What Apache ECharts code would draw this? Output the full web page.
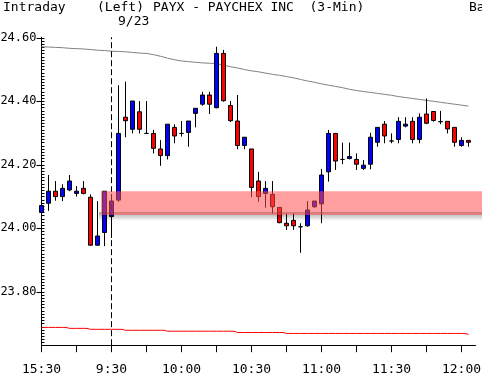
<!DOCTYPE html>
<html>
<head>
<meta charset="utf-8">
<script src="https://cdn.jsdelivr.net/npm/echarts@6/dist/echarts.min.js"></script>
<style>
html,body{margin:0;padding:0;background:#fff;}
#chart{width:482px;height:382px;}
</style>
</head>
<body>
<div id="chart"></div>
<script>
// ---- data ----
const times = ['15:30','15:33','15:36','15:39','15:42','15:45','15:48','15:51','15:54','15:57',
  '9:30','9:33','9:36','9:39','9:42','9:45','9:48','9:51','9:54','9:57',
  '10:00','10:03','10:06','10:09','10:12','10:15','10:18','10:21','10:24','10:27',
  '10:30','10:33','10:36','10:39','10:42','10:45','10:48','10:51','10:54','10:57',
  '11:00','11:03','11:06','11:09','11:12','11:15','11:18','11:21','11:24','11:27',
  '11:30','11:33','11:36','11:39','11:42','11:45','11:48','11:51','11:54','11:57',
  '12:00','12:03','12:06'];
const opens  = [24.050,24.079,24.117,24.100,24.121,24.110,24.126,24.098,23.947,23.987,
  24.037,24.089,24.350,24.312,24.367,24.299,24.299,24.250,24.229,24.318,
  24.299,24.302,24.362,24.391,24.420,24.380,24.551,24.387,24.338,24.261,
  24.250,24.149,24.110,24.107,24.066,24.016,24.025,24.005,24.008,24.068,
  24.077,24.178,24.299,24.217,24.220,24.217,24.189,24.202,24.271,24.328,
  24.275,24.280,24.322,24.337,24.280,24.360,24.368,24.336,24.337,24.318,
  24.261,24.277];
const closes = [24.072,24.117,24.100,24.126,24.149,24.117,24.110,23.947,23.976,24.117,
  24.086,24.299,24.339,24.401,24.312,24.299,24.252,24.229,24.328,24.291,
  24.299,24.338,24.378,24.420,24.391,24.551,24.402,24.339,24.261,24.287,
  24.129,24.100,24.126,24.068,24.018,24.008,24.008,24.005,24.058,24.086,
  24.168,24.299,24.212,24.217,24.226,24.202,24.199,24.287,24.318,24.291,
  24.275,24.337,24.328,24.280,24.350,24.331,24.340,24.336,24.313,24.271,
  24.277,24.271];
const lows   = [24.045,24.055,24.087,24.086,24.117,24.100,24.107,23.945,23.945,23.944,
  23.970,24.084,24.287,24.299,24.299,24.299,24.236,24.197,24.217,24.268,
  24.289,24.257,24.318,24.386,24.360,24.378,24.399,24.335,24.249,24.249,
  24.098,24.084,24.065,24.047,24.016,23.995,23.995,23.923,24.005,24.065,
  24.016,24.147,24.184,24.202,24.217,24.184,24.184,24.186,24.257,24.268,
  24.268,24.268,24.318,24.268,24.268,24.328,24.336,24.328,24.299,24.257,
  24.257,24.257];
const highs  = [24.078,24.168,24.149,24.139,24.168,24.133,24.149,24.107,24.086,24.117,
  24.108,24.451,24.462,24.401,24.401,24.401,24.310,24.278,24.328,24.328,
  24.338,24.338,24.378,24.430,24.430,24.572,24.562,24.401,24.420,24.287,
  24.250,24.178,24.149,24.149,24.066,24.047,24.047,24.016,24.086,24.086,
  24.187,24.310,24.299,24.270,24.270,24.236,24.215,24.301,24.318,24.338,
  24.299,24.350,24.350,24.350,24.362,24.409,24.368,24.370,24.337,24.318,
  24.287,24.277];
const grayLine = [24.572,24.571,24.570,24.569,24.567,24.566,24.565,24.563,24.561,24.560,
  24.558,24.557,24.556,24.554,24.552,24.551,24.547,24.542,24.536,24.531,
  24.527,24.525,24.523,24.521,24.520,24.519,24.514,24.509,24.505,24.500,
  24.496,24.493,24.489,24.485,24.482,24.478,24.474,24.469,24.464,24.460,
  24.455,24.451,24.447,24.443,24.438,24.434,24.431,24.428,24.425,24.422,
  24.419,24.415,24.412,24.409,24.406,24.403,24.400,24.397,24.394,24.391,
  24.388,24.385];
const redLine = [23.688,23.688,23.688,23.688,23.685,23.685,23.685,23.682,23.682,23.682,
  23.682,23.682,23.679,23.679,23.679,23.679,23.679,23.679,23.676,23.676,
  23.676,23.676,23.676,23.676,23.676,23.676,23.676,23.676,23.672,23.672,
  23.672,23.672,23.672,23.672,23.672,23.669,23.669,23.669,23.669,23.669,
  23.669,23.669,23.669,23.669,23.669,23.669,23.669,23.669,23.669,23.669,
  23.669,23.669,23.669,23.669,23.669,23.669,23.669,23.669,23.669,23.669,
  23.669,23.666];
const yLabels = [23.8, 24.0, 24.2, 24.4, 24.6];
const bandHigh = 24.117, bandLow = 24.042, bandStart = 8.5;
const dayBreak = '9:30';

// ---- build ----
const candles = opens.map((o, i) => [o, closes[i], lows[i], highs[i]]);
const minorTicks = [];
for (let k = 2364; k <= 2460; k++) minorTicks.push(k / 100);
const FONT = 'DejaVu Sans Mono';

const chart = echarts.init(document.getElementById('chart'), null, {renderer: 'canvas'});
chart.setOption({
  animation: false,
  backgroundColor: '#fff',
  grid: {left: 41.5, top: 37.2, width: 434, height: 308, containLabel: false, outerBoundsMode: 'none'},
  xAxis: {
    type: 'category', data: times, boundaryGap: false,
    axisLine: {lineStyle: {color: '#000', width: 1}},
    axisTick: {interval: (i) => i % 5 === 0, length: 7, lineStyle: {color: '#000'}},
    axisLabel: {interval: (i) => i % 10 === 0, color: '#000', fontFamily: FONT, fontSize: 13, margin: 18, hideOverlap: false},
    splitLine: {show: false}
  },
  yAxis: [{
    type: 'value', min: 23.632, max: 24.602, position: 'left',
    axisLine: {show: true, lineStyle: {color: '#000'}},
    axisTick: {show: true, customValues: yLabels, length: 5, lineStyle: {color: '#000'}},
    axisLabel: {customValues: yLabels, formatter: (v) => v.toFixed(2), color: '#000', fontFamily: FONT, fontSize: 12, margin: 5},
    splitLine: {show: false}
  }, {
    type: 'value', min: 23.632, max: 24.602, position: 'left',
    axisLine: {show: false},
    axisTick: {show: true, customValues: minorTicks, inside: true, length: 3, lineStyle: {color: '#000'}},
    axisLabel: {show: false},
    splitLine: {show: false}
  }],
  series: [{
    type: 'line', data: grayLine, symbol: 'none', z: 1,
    lineStyle: {color: '#808080', width: 1}
  }, {
    type: 'line', data: redLine, symbol: 'none', step: 'middle', z: 1,
    lineStyle: {color: '#ff0000', width: 1}
  }, {
    type: 'candlestick', data: candles, barWidth: 5, clip: true, z: 3,
    itemStyle: {color: '#0000ff', color0: '#ff0000', borderColor: '#000', borderColor0: '#000', borderWidth: 1},
    markLine: {
      symbol: 'none', silent: true, label: {show: false},
      lineStyle: {color: '#000', type: [6, 3], width: 1},
      data: [{xAxis: dayBreak}]
    }
  }]
});

// band annotation, positioned from data values
const p1 = chart.convertToPixel({gridIndex: 0}, [Math.floor(bandStart), bandHigh]);
const p2 = chart.convertToPixel({gridIndex: 0}, [Math.ceil(bandStart), bandLow]);
const bx = (p1[0] + p2[0]) / 2;
const bw = chart.getWidth() - bx;
const TF = '13px "DejaVu Sans Mono"';
chart.setOption({
  graphic: [
    {type: 'rect', z: 50, shape: {x: bx - 2, y: p2[1] - 3, width: bw + 2, height: 9},
      style: {fill: new echarts.graphic.LinearGradient(0, 0, 0, 1, [
        {offset: 0, color: 'rgba(0,0,0,0.35)'}, {offset: 1, color: 'rgba(0,0,0,0)'}])}},
    {type: 'rect', z: 51, shape: {x: bx, y: p1[1], width: bw, height: p2[1] - p1[1]},
      style: {fill: 'rgba(255,80,80,0.55)'}},
    {type: 'text', left: 3, top: 1, z: 60, style: {text: 'Intraday', font: TF, fill: '#000'}},
    {type: 'text', left: 97, top: 1, z: 60, style: {text: '(Left)', font: TF, fill: '#000'}},
    {type: 'text', left: 153, top: 1, z: 60, style: {text: 'PAYX - PAYCHEX INC  (3-Min)', font: TF, fill: '#000'}},
    {type: 'text', left: 469, top: 1, z: 60, style: {text: 'Ba', font: TF, fill: '#000'}},
    {type: 'text', left: 118, top: 15, z: 60, style: {text: '9/23', font: TF, fill: '#000'}}
  ]
});
</script>
</body>
</html>
